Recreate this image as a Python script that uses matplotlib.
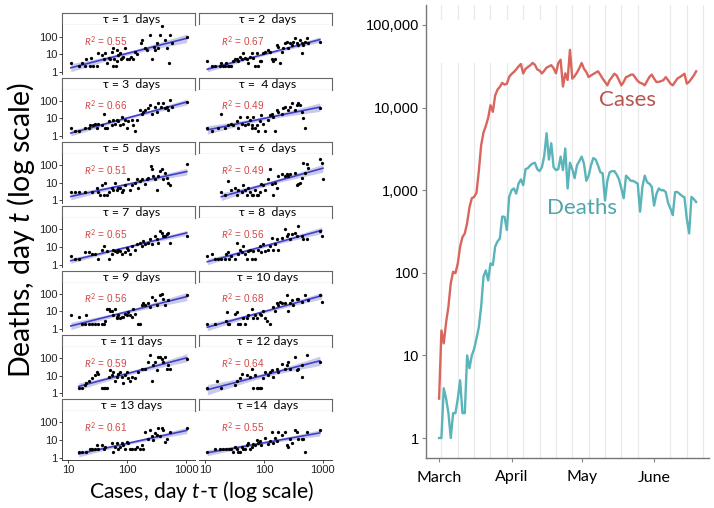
#!/usr/bin/env python3

import numpy
import pandas
import matplotlib
matplotlib.use("Agg")
import matplotlib.pyplot as plt
import matplotlib.dates as mdates
from matplotlib.ticker import FuncFormatter, NullLocator, FixedLocator
from matplotlib.patches import Rectangle

#------------------------------------------------------------- data
tauLabels = ["τ = 1  days", "τ = 2  days", "τ = 3  days", "τ =  4 days",
             "τ = 5  days", "τ = 6  days", "τ = 7  days", "τ = 8  days",
             "τ = 9  days", "τ = 10 days", "τ = 11 days", "τ = 12 days",
             "τ = 13 days", "τ =14  days"]
rSquared = [0.55, 0.67, 0.66, 0.49, 0.51, 0.49, 0.65,
            0.56, 0.56, 0.68, 0.59, 0.64, 0.61, 0.55]

casesTau1 = [11,15,17,19,20,23,24,26,30,32,37,40,42,45,48,51,54,56,58,60,63,66,68,70,75,78,80,85,91,97,
             107,116,126,135,145,171,180,200,213,243,259,280,295,315,336,360,391,436,467,505,530,565,1015]
deathsTau1 = [3,2,3,2,5,2,6,2,2,11,9,5,12,3,6,5,14,2,21,5,2,17,4,9,11,5,6,7,21,5,
              5,7,5,14,10,41,63,21,17,121,5,26,17,41,21,121,394,63,21,3,121,41,97]
casesTau2 = [11,13,15,18,19,20,22,23,25,26,28,30,32,35,37,40,42,45,48,51,54,58,62,66,70,75,80,85,91,97,
             104,119,127,135,144,154,164,175,187,200,213,227,243,259,276,295,315,336,360,383,409,436,448,467,497,530,565,889]
deathsTau2 = [4,2,2,2,3,2,2,3,2,2,2,4,5,5,4,7,5,11,6,5,3,7,11,6,2,11,2,4,4,11,
              14,17,14,5,4,5,33,26,3,14,21,41,50,21,41,33,50,78,41,33,63,41,11,33,50,78,41,50]
casesTau3 = [11,13,15,19,22,23,26,28,30,32,37,40,42,45,48,54,58,62,66,70,75,80,85,91,97,
             104,119,126,135,145,164,175,187,200,227,243,259,295,315,336,375,409,436,467,497,530,565,1015]
deathsTau3 = [3,2,2,3,3,4,4,5,3,5,4,19,3,3,7,4,8,5,8,7,4,12,5,8,3,
              7,8,4,2,8,30,19,24,30,37,58,19,46,24,72,46,72,37,46,30,111,46,90]
casesTau4 = [11,13,17,19,22,25,28,30,35,37,40,42,48,51,54,58,62,64,66,70,75,80,85,91,97,
             104,119,127,135,144,154,164,175,200,213,227,259,276,295,336,360,383,409,436,467,497,889]
deathsTau4 = [3,2,3,19,3,4,5,4,7,3,12,5,4,12,5,8,4,3,12,3,4,2,7,16,5,
              2,8,16,19,12,2,30,24,19,37,46,30,46,72,30,58,72,58,24,10,3,37]
casesTau5 = [11,13,15,19,25,30,32,35,37,40,42,45,48,54,58,62,66,70,75,80,85,91,104,111,119,
             135,145,154,164,175,200,213,227,253,259,276,295,315,336,360,383,409,436,467,497,530,1015]
deathsTau5 = [3,3,3,3,3,5,3,2,7,2,10,2,3,5,4,10,4,5,5,3,4,7,16,4,7,
              10,16,5,12,16,8,16,19,90,58,24,16,4,24,46,58,16,37,19,10,7,111]
casesTau6 = [19,22,25,28,32,35,37,42,45,48,51,54,58,62,66,70,75,80,85,91,97,104,119,127,135,
             144,154,164,175,200,227,243,259,276,336,360,383,409,436,467,497,530,565,889,951,1000]
deathsTau6 = [3,2,12,4,5,2,4,3,7,4,2,5,3,2,2,4,2,2,3,8,7,4,16,58,8,
              2,10,5,24,30,24,30,24,30,37,7,8,10,19,140,37,111,72,215,140,16]
casesTau7 = [11,13,15,19,22,25,28,32,37,40,45,48,54,58,62,66,70,75,80,91,97,104,111,119,135,
             145,164,175,187,200,227,243,259,295,315,336,360,383,409,436,467,497,530,1015]
deathsTau7 = [3,2,2,5,5,4,4,2,7,11,6,2,4,7,6,5,7,6,4,5,9,7,4,11,7,
              14,18,11,22,14,18,28,14,43,28,18,82,66,43,43,53,66,18,43]
casesTau8 = [11,13,15,17,19,22,23,25,26,28,32,35,37,40,42,45,48,51,54,58,62,66,70,80,85,
             91,97,104,119,127,135,144,154,164,175,200,227,243,259,276,295,336,360,383,436,467,530,889,951]
deathsTau8 = [3,4,2,2,2,2,4,5,2,3,2,18,4,7,5,11,4,2,6,7,2,6,2,7,11,
              5,14,6,7,11,34,7,14,28,7,34,100,43,53,28,53,66,43,156,43,28,28,82,43]
casesTau9 = [11,15,17,19,20,22,25,28,32,37,40,42,45,48,51,54,58,62,66,68,70,75,80,85,91,
             97,104,111,119,126,135,154,164,175,187,200,227,243,259,295,315,360,383,409,436,497,1015]
deathsTau9 = [6,5,2,2,6,2,2,2,2,2,2,3,14,14,11,11,6,14,5,4,6,4,5,5,7,
              6,9,6,5,14,7,2,2,22,28,22,28,18,66,43,22,82,100,53,22,43,82]
casesTau10 = [11,15,23,24,25,26,32,35,37,40,45,48,51,54,62,66,70,75,85,91,97,104,111,
              127,144,154,164,175,187,200,227,243,259,276,295,315,360,383,436,497,565,889,951]
deathsTau10 = [2,2,3,9,2,2,7,9,2,2,4,2,4,6,14,4,6,4,7,6,11,4,3,
               2,18,11,28,22,34,28,28,82,11,28,43,22,53,53,34,82,43,82,34]
casesTau11 = [15,17,19,20,22,25,28,30,32,37,40,42,45,48,51,54,58,62,66,70,75,80,85,91,97,
              104,111,119,135,154,175,200,227,243,259,276,295,315,336,360,383,409,436,467,497,530,1015]
deathsTau11 = [2,2,3,4,5,7,11,16,13,2,2,2,2,8,20,11,16,5,8,13,16,8,4,11,16,
               7,5,8,7,16,25,25,60,145,5,39,60,20,115,115,93,60,115,25,39,25,93]
casesTau12 = [11,16,19,32,35,40,42,51,58,62,66,70,75,80,85,91,97,104,
              119,127,135,144,164,175,200,227,243,259,276,336,360,383,436,448,530,889]
deathsTau12 = [2,5,2,3,5,7,13,11,8,25,2,11,2,2,2,2,7,16,
               11,16,20,8,25,16,48,25,39,60,25,115,20,25,8,39,145,60]
casesTau13 = [15,17,20,23,25,28,30,32,37,40,42,54,58,62,66,70,75,80,85,91,97,104,
              111,119,135,145,164,175,187,200,227,243,259,276,295,315,336,360,383,409,436,467,530,1015]
deathsTau13 = [2,2,2,3,3,3,5,3,5,3,4,7,2,4,7,3,4,7,5,3,8,7,
               3,3,3,4,3,5,3,30,12,37,16,10,24,19,46,16,46,37,8,12,30,46]
casesTau14 = [11,15,18,20,23,26,28,30,32,35,37,40,42,45,48,51,54,58,62,66,70,75,80,85,
              91,104,119,127,135,144,154,164,175,200,227,243,259,276,295,336,360,383,436,467,497,530,889]
deathsTau14 = [2,3,3,3,3,3,3,2,4,3,2,2,4,3,3,5,7,3,4,6,5,10,7,9,
               5,13,6,9,30,7,13,9,30,19,30,5,4,12,7,37,30,12,12,12,2,30,37]

startDate = "2020-03-01"
dailyCases = [3,20,14,25,39,75,103,99,130,208,
              270,300,400,620,800,830,930,1700,3500,5000,
              6000,7500,10700,8900,14000,16500,17800,19900,19000,19400,
              23600,25500,27000,29000,31500,33700,25900,29500,31000,32500,
              34700,33000,29000,28000,25900,28000,30500,31500,32600,30000,
              26000,34500,38000,18000,26000,21600,50000,22400,24000,26500,
              30000,34700,29500,27000,23400,24500,25500,26500,27500,25000,
              22400,20500,18600,21500,23400,25700,24500,21400,18600,20500,
              23400,24000,25000,25100,23000,21000,20000,19500,18600,21000,
              23500,25100,22500,20400,20500,20900,21500,23400,21500,19500,
              18600,20500,22500,23400,24500,25700,19500,20500,22400,24500,
              27500]
dailyDeaths = [1,1,4,3,2,1,2,2,3,5,
               2,2,10,7,10,12,16,22,39,90,
               107,81,130,124,208,240,260,480,475,330,
               830,1000,1050,910,1200,1350,1150,1800,1850,2000,
               2100,2150,1800,1700,1900,2600,4900,2350,3700,1900,
               1750,1800,2550,1750,3200,1050,2150,1800,1400,2000,
               2250,2550,2100,1300,1500,2000,2450,2350,2000,1650,
               1600,750,1300,1650,1700,1700,1550,1350,1050,800,
               1500,1400,1300,1300,1250,1200,550,1100,1500,1250,
               1200,1100,650,900,1050,1000,1000,950,700,600,
               500,950,950,900,850,820,450,300,830,780,
               720]

#-------------------------------------------------------------
FIG_W, FIG_H = 714, 508
GILL = ["Lato", "DejaVu Sans"]
ARIAL = ["Liberation Sans", "DejaVu Sans"]

def pixBox(left, top, right, bottom):
    return [left / FIG_W, 1 - bottom / FIG_H,
            (right - left) / FIG_W, (bottom - top) / FIG_H]

#-------------------------------------------------------------
def fitBand(cases, deaths):
    x = numpy.log10(cases)
    y = numpy.log10(deaths)
    n = len(x)
    slope, icpt = numpy.polyfit(x, y, 1)
    resid = y - (icpt + slope * x)
    s = numpy.sqrt(numpy.sum(resid ** 2) / (n - 2))
    sxx = numpy.sum((x - x.mean()) ** 2)
    xg = numpy.linspace(x.min(), x.max(), 60)
    yg = icpt + slope * xg
    se = s * numpy.sqrt(1.0 / n + (xg - x.mean()) ** 2 / sxx)
    return 10 ** xg, 10 ** yg, 10 ** (yg - 1.96 * se), 10 ** (yg + 1.96 * se)

#-------------------------------------------------------------
def drawFacet(fig, idx, cases, deaths):
    row, col = divmod(idx, 2)
    left = 62 if col == 0 else 198.5
    right = left + 133
    top = 25.3 + 64.3 * row
    bottom = 74 + 64.3 * row

    # strip
    sax = fig.add_axes(pixBox(left, top - 12, right, top))
    sax.set_xticks([])
    sax.set_yticks([])
    for sp in sax.spines.values():
        sp.set_color("#666666")
        sp.set_linewidth(0.8)
    sax.text(0.52, 0.45, tauLabels[idx], ha="center", va="center",
             fontsize=8.8, family=GILL)

    ax = fig.add_axes(pixBox(left, top, right, bottom))
    ax.set_xscale("log")
    ax.set_yscale("log")
    xg, yg, lo, hi = fitBand(cases, deaths)
    ax.fill_between(xg, lo, hi, color="#b4b6e0", alpha=0.7, lw=0, zorder=1)
    ax.plot(xg, yg, color="#4040cc", lw=1.2, zorder=2)
    ax.scatter(cases, deaths, s=5.5, c="black", linewidths=0, zorder=3)
    ax.set_xlim(7.8, 1400)
    ax.set_ylim(0.74, 436)
    ax.xaxis.set_major_locator(FixedLocator([10, 100, 1000]))
    ax.yaxis.set_major_locator(FixedLocator([1, 10, 100]))
    ax.xaxis.set_minor_locator(NullLocator())
    ax.yaxis.set_minor_locator(NullLocator())
    fmt = FuncFormatter(lambda v, p: "{:g}".format(v))
    ax.xaxis.set_major_formatter(fmt)
    ax.yaxis.set_major_formatter(fmt)
    for lab in ax.get_xticklabels() + ax.get_yticklabels():
        lab.set_family(ARIAL)
    ax.tick_params(length=2, width=0.7, color="#444444", labelsize=8,
                   pad=1.5, labelcolor="#222222")
    ax.spines["top"].set_visible(False)
    ax.spines["right"].set_visible(False)
    for sp in ("left", "bottom"):
        ax.spines[sp].set_color("#444444")
        ax.spines[sp].set_linewidth(0.7)
    if col != 0:
        ax.spines["left"].set_visible(False)
        ax.tick_params(axis="y", left=False, labelleft=False)
    if row != 6:
        ax.spines["bottom"].set_visible(False)
        ax.tick_params(axis="x", bottom=False, labelbottom=False)

    ax.text(0.33, 0.66, r"$R^2$ = {:.2f}".format(rSquared[idx]),
            transform=ax.transAxes, ha="center", va="center",
            fontsize=7.2, color="#d04848", family=ARIAL)

#-------------------------------------------------------------
def drawTimeSeries(fig):
    ax = fig.add_axes(pixBox(426, 5, 709, 458))
    dates = pandas.date_range(startDate, periods=len(dailyCases), freq="D")
    ax.plot(dates, dailyCases, color="#d9655d", lw=1.7, zorder=3)
    ax.plot(dates, dailyDeaths, color="#5ab4ba", lw=1.7, zorder=3)

    ax.set_yscale("log")
    ax.set_ylim(0.573, 174600)
    day0 = pandas.Timestamp(startDate)
    ax.set_xlim(day0 - pandas.Timedelta(days=5.6),
                day0 + pandas.Timedelta(days=115.5))

    ax.xaxis.set_major_locator(mdates.MonthLocator())
    ax.xaxis.set_major_formatter(mdates.DateFormatter("%B"))
    ax.xaxis.set_minor_locator(mdates.WeekdayLocator(byweekday=mdates.MO))
    ax.grid(which="minor", axis="x", color="#e9e9e9", lw=0.9)
    ax.set_axisbelow(True)

    ax.yaxis.set_major_locator(FixedLocator([1, 10, 100, 1000, 10000, 100000]))
    ax.yaxis.set_minor_locator(NullLocator())
    ax.yaxis.set_major_formatter(FuncFormatter(lambda v, p: "{:,.0f}".format(v)))

    ax.tick_params(which="major", length=3, width=0.8, color="#888888")
    ax.tick_params(which="minor", length=0)
    ax.tick_params(axis="y", labelsize=10.5, pad=2)
    ax.tick_params(axis="x", labelsize=11.5, pad=6)
    for lab in ax.get_yticklabels():
        lab.set_family(ARIAL)
    for lab in ax.get_xticklabels():
        lab.set_family(GILL)
    ax.spines["top"].set_visible(False)
    ax.spines["right"].set_visible(False)
    for sp in ("left", "bottom"):
        ax.spines[sp].set_color("#777777")
        ax.spines[sp].set_linewidth(1.0)

    # blank patch that hides gridlines near the top, as in the source
    ax.add_patch(Rectangle((0.04, 0.872), 0.39, 0.095, transform=ax.transAxes,
                           facecolor="white", edgecolor="none", zorder=1.5))

    ax.text(0.712, 0.79, "Cases", transform=ax.transAxes, ha="center",
            va="center", fontsize=16, color="#b8554f", family=GILL)
    ax.text(0.551, 0.552, "Deaths", transform=ax.transAxes, ha="center",
            va="center", fontsize=16, color="#4fa6ab", family=GILL)

#-------------------------------------------------------------
def main():
    plt.rcParams["mathtext.fontset"] = "custom"
    plt.rcParams["mathtext.rm"] = "Lato"
    plt.rcParams["mathtext.it"] = "Lato:italic"

    fig = plt.figure(figsize=(FIG_W / 100, FIG_H / 100), dpi=100)

    facetCases = [casesTau1, casesTau2, casesTau3, casesTau4, casesTau5,
                  casesTau6, casesTau7, casesTau8, casesTau9, casesTau10,
                  casesTau11, casesTau12, casesTau13, casesTau14]
    facetDeaths = [deathsTau1, deathsTau2, deathsTau3, deathsTau4, deathsTau5,
                   deathsTau6, deathsTau7, deathsTau8, deathsTau9, deathsTau10,
                   deathsTau11, deathsTau12, deathsTau13, deathsTau14]
    for i in range(14):
        drawFacet(fig, i, facetCases[i], facetDeaths[i])

    fig.text(21 / FIG_W, 1 - 230 / FIG_H, r"Deaths, day $t$ (log scale)",
             rotation=90, ha="center", va="center", fontsize=20.5, family=GILL)
    fig.text(201 / FIG_W, 1 - 492 / FIG_H, r"Cases, day $t$-$\mathrm{\tau}$ (log scale)",
             ha="center", va="center", fontsize=15.2, family=GILL)

    drawTimeSeries(fig)

    fig.savefig("out.png", dpi=100)
    plt.close(fig)

#-------------------------------------------------------------
if __name__ == "__main__":
    main()
